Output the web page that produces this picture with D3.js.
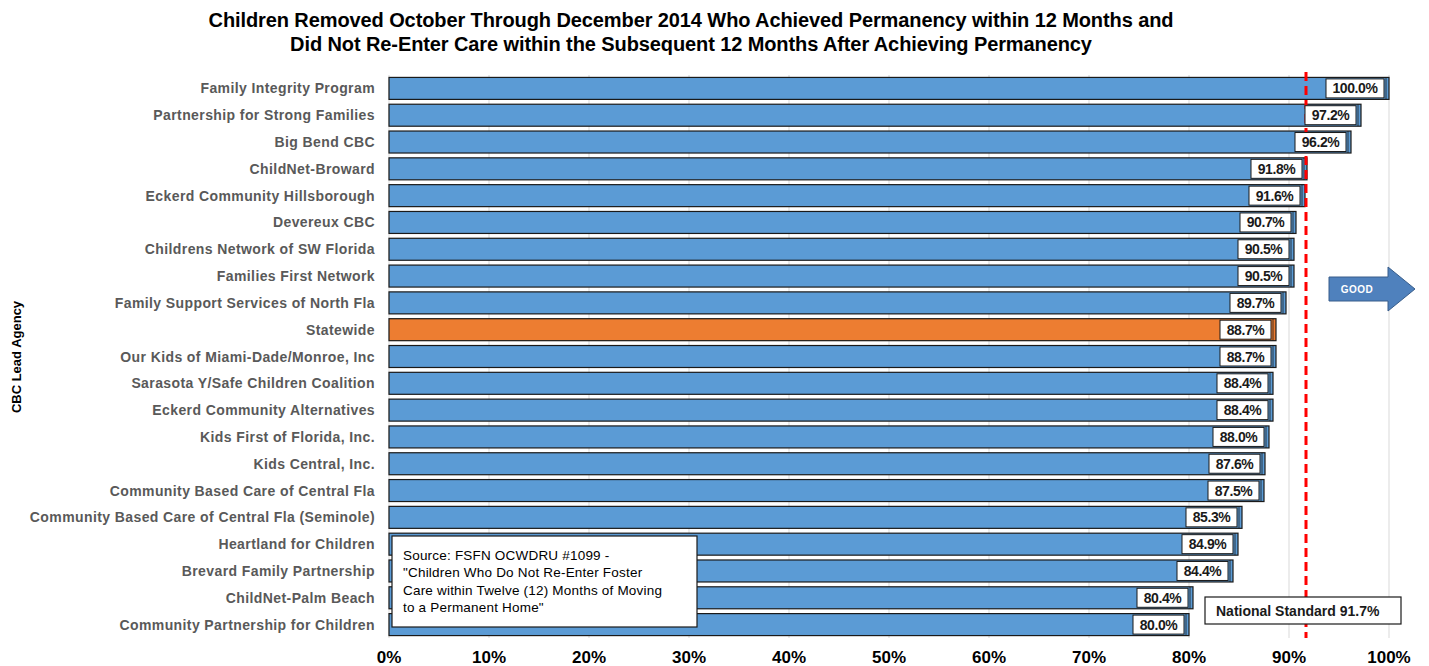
<!DOCTYPE html>
<html><head><meta charset="utf-8">
<script src="https://cdn.jsdelivr.net/npm/d3@7"></script>
<style>body{margin:0;background:#fff;}svg{display:block;font-family:"Liberation Sans",Arial,sans-serif;}</style>
</head><body><svg id="c" width="1429" height="666"></svg>
<script>
const agencies = ["Family Integrity Program","Partnership for Strong Families","Big Bend CBC","ChildNet-Broward","Eckerd Community Hillsborough","Devereux CBC","Childrens Network of SW Florida","Families First Network","Family Support Services of North Fla","Statewide","Our Kids of Miami-Dade/Monroe, Inc","Sarasota Y/Safe Children Coalition","Eckerd Community Alternatives","Kids First of Florida, Inc.","Kids Central, Inc.","Community Based Care of Central Fla","Community Based Care of Central Fla (Seminole)","Heartland for Children","Brevard Family Partnership","ChildNet-Palm Beach","Community Partnership for Children"];
const values = [100.0,97.2,96.2,91.8,91.6,90.7,90.5,90.5,89.7,88.7,88.7,88.4,88.4,88.0,87.6,87.5,85.3,84.9,84.4,80.4,80.0];
const xTicks = [0,10,20,30,40,50,60,70,80,90,100];
const nationalStandard = 91.7;
const titleLines = ["Children Removed October Through December 2014 Who Achieved Permanency within 12 Months and","Did Not Re-Enter Care within the Subsequent 12 Months After Achieving Permanency"];
const sourceLines = ["Source: FSFN OCWDRU #1099 -","\"Children Who Do Not Re-Enter Foster","Care within Twelve (12) Months of Moving","to a Permanent Home\""];

const svg = d3.select("#c");
const x = d3.scaleLinear().domain([0,100]).range([389,1389]);
const y = d3.scaleBand().domain(agencies).range([75,638]).paddingInner(0.18).paddingOuter(0.09);

// title
svg.append("g").selectAll("text").data(titleLines).join("text")
  .attr("x",691).attr("y",(d,i)=>27+i*24).attr("text-anchor","middle")
  .attr("font-size",20).attr("font-weight","bold").attr("letter-spacing",-0.1).attr("fill","#000").text(d=>d);

// gridlines
svg.append("g").selectAll("line").data(xTicks).join("line")
  .attr("x1",d=>x(d)).attr("x2",d=>x(d)).attr("y1",75).attr("y2",638)
  .attr("stroke","#d9d9d9").attr("stroke-width",1);

// bars
const bars = svg.append("g");
agencies.forEach((a,i)=>{
  const v = values[i];
  const isState = a==="Statewide";
  const fill = isState ? "#ED7D31" : "#5B9BD5";
  const by = y(a), bh = y.bandwidth();
  bars.append("rect").attr("x",x(0)).attr("y",by).attr("width",x(v)-x(0)).attr("height",bh)
    .attr("fill",fill).attr("stroke","#1a1a1a").attr("stroke-width",1.2);
  bars.append("line").attr("x1",x(v)-3).attr("x2",x(v)-3).attr("y1",by).attr("y2",by+bh)
    .attr("stroke","#1a1a1a").attr("stroke-width",0.8);
});

// dashed national standard
svg.append("line").attr("x1",x(nationalStandard)).attr("x2",x(nationalStandard)).attr("y1",72).attr("y2",638)
  .attr("stroke","#ff0000").attr("stroke-width",3).attr("stroke-dasharray","9,5");

// value labels
const lbl = svg.append("g");
agencies.forEach((a,i)=>{
  const v = values[i];
  const t = v.toFixed(1)+"%";
  const w = t.length>5 ? 58 : 51;
  const cy = y(a)+y.bandwidth()/2;
  const rx = x(v)-5;
  lbl.append("rect").attr("x",rx-w).attr("y",cy-9.5).attr("width",w).attr("height",19)
    .attr("fill","#fff").attr("stroke","#1a1a1a").attr("stroke-width",1);
  lbl.append("text").attr("x",rx-w/2).attr("y",cy+5).attr("text-anchor","middle")
    .attr("font-size",14).attr("font-weight","bold").attr("letter-spacing",-0.4).attr("fill","#1a1a1a").text(t);
});

// y labels
svg.append("g").selectAll("text").data(agencies).join("text")
  .attr("x",375).attr("y",d=>y(d)+y.bandwidth()/2+5).attr("text-anchor","end")
  .attr("font-size",14).attr("font-weight","bold").attr("letter-spacing",0.4).attr("fill","#595959").text(d=>d);

// y axis title
svg.append("text").attr("transform","translate(21,357) rotate(-90)").attr("text-anchor","middle")
  .attr("font-size",13).attr("font-weight","bold").attr("fill","#000").text("CBC Lead Agency");

// x axis labels
svg.append("g").selectAll("text").data(xTicks).join("text")
  .attr("x",d=>x(d)).attr("y",663).attr("text-anchor","middle")
  .attr("font-size",17).attr("font-weight","bold").attr("fill","#000").text(d=>d+"%");

// source box
svg.append("rect").attr("x",392).attr("y",536).attr("width",305).attr("height",91)
  .attr("fill","#fff").attr("stroke","#1a1a1a").attr("stroke-width",1.2);
svg.append("g").selectAll("text").data(sourceLines).join("text")
  .attr("x",403).attr("y",(d,i)=>560+i*17.3).attr("font-size",13.5).attr("letter-spacing",0.2).attr("fill","#000").text(d=>d);

// national standard box
svg.append("rect").attr("x",1205).attr("y",597).attr("width",196).attr("height",27)
  .attr("fill","#fff").attr("stroke","#1a1a1a").attr("stroke-width",1.2);
svg.append("text").attr("x",1216).attr("y",616).attr("font-size",14).attr("font-weight","bold").attr("fill","#1a1a1a")
  .text("National Standard "+nationalStandard+"%");

// GOOD arrow
const ax=1329, ay=289;
svg.append("path").attr("d",`M${ax},${ay-12}L${ax+59},${ay-12}L${ax+59},${ay-22}L${ax+86},${ay}L${ax+59},${ay+22}L${ax+59},${ay+12}L${ax},${ay+12}Z`)
  .attr("fill","#4F81BD").attr("stroke","#385D8A").attr("stroke-width",1);
svg.append("text").attr("x",ax+28).attr("y",ay+4).attr("text-anchor","middle").attr("font-size",10)
  .attr("font-weight","bold").attr("letter-spacing",0.5).attr("fill","#fff").text("GOOD");
</script></body></html>
